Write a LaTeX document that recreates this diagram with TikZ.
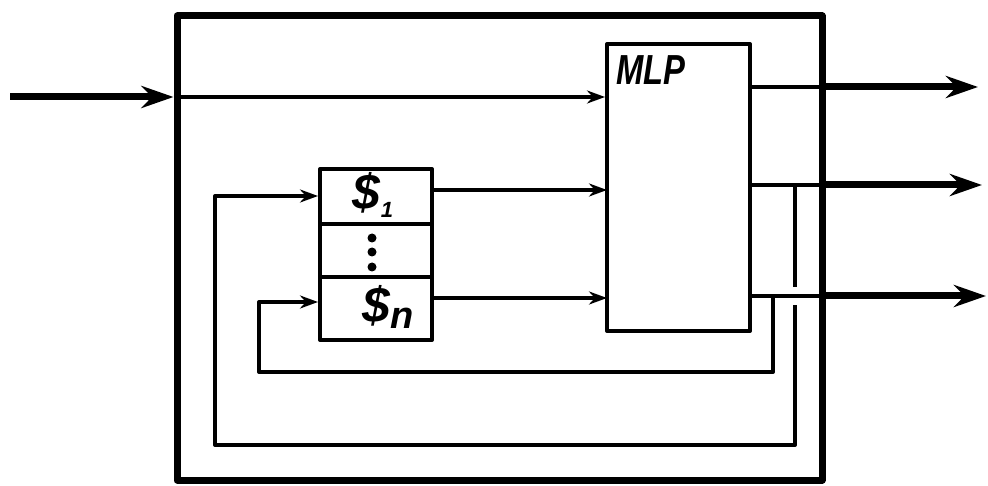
\documentclass[tikz,border=0pt]{standalone}
\usepackage{fontspec}
\setmainfont{Liberation Sans}
\usetikzlibrary{arrows.meta}
\begin{document}
\begin{tikzpicture}[x=1pt,y=-1pt,
  frame/.style={draw, line width=7pt, line join=round, inner sep=0pt},
  blk/.style={draw, line width=4pt, inner sep=0pt, line join=round},
  wire/.style={line width=4pt, line join=round},
  warrow/.style={wire, -{Stealth[length=18pt,width=13pt]}},
  barrow/.style={line width=7pt, -{Stealth[length=32pt,width=22pt]}},
  lbl/.style={font=\fontsize{50}{52}\selectfont\bfseries\itshape, inner sep=0pt},
  dotmark/.style={fill, circle, inner sep=0pt, minimum size=9pt}
]
\useasboundingbox (0,0) rectangle (988,486);

% blocks
\node[frame, minimum width=645pt, minimum height=464pt] (outer) at (499.5,248) {};
\node[blk, minimum width=143pt, minimum height=287pt] (mlp) at (678.5,187.5) {};
\node[blk, minimum width=112pt, minimum height=55pt] (s1) at (376,196.5) {};
\node[blk, minimum width=112pt, minimum height=53pt] (sd) at (376,250.5) {};
\node[blk, minimum width=112pt, minimum height=63pt] (sn) at (376,308.5) {};

% labels
\node[anchor=north west, inner sep=0pt, font=\fontsize{42}{44}\selectfont\bfseries\itshape] (mlplbl) at (616,55) {\scalebox{0.78}[1]{MLP}};
\node[lbl] (l1) at (373,195) {\$\raisebox{-8pt}{\fontsize{22}{22}\selectfont 1}};
\node[lbl] (ln) at (388,307) {\$\raisebox{-6pt}{\fontsize{38}{38}\selectfont n}};
\node[dotmark] (d1) at (372,238) {};
\node[dotmark] (d2) at (372,252) {};
\node[dotmark] (d3) at (372,267) {};

% coordinates
\coordinate (in) at (10,97);
\coordinate (o1) at (750,87);
\coordinate (o2) at (750,185);
\coordinate (o3) at (750,296);
\coordinate (t1) at (978,87);
\coordinate (t2) at (982,185);
\coordinate (t3) at (986,296);
\coordinate (m2) at (607,190);
\coordinate (m3) at (607,298);
\coordinate (f1) at (795,185);
\coordinate (f1b) at (795,445);
\coordinate (f1c) at (215,445);
\coordinate (f1d) at (215,196);
\coordinate (f2) at (773,296);
\coordinate (f2b) at (773,372);
\coordinate (f2c) at (259,372);
\coordinate (f2d) at (259,302);

% input
\draw[barrow] (in) -- (outer.west |- in);
\draw[warrow] (outer.west |- in) -- (mlp.west |- in);

% store to MLP
\draw[warrow] (s1.east |- m2) -- (m2);
\draw[warrow] (sn.east |- m3) -- (m3);

% feedback loops
\draw[warrow] (f1) -- (f1b) -- (f1c) -- (f1d) -- (s1.west |- f1d);
\draw[warrow] (f2) -- (f2b) -- (f2c) -- (f2d) -- (sn.west |- f2d);
\draw[white, line width=6pt] (795,287) -- (795,305);

% outputs
\draw[wire] (o1) -- (o1 -| outer.east);
\draw[wire] (o2) -- (o2 -| outer.east);
\draw[wire] (o3) -- (o3 -| outer.east);
\draw[barrow] (o1 -| outer.east) -- (t1);
\draw[barrow] (o2 -| outer.east) -- (t2);
\draw[barrow] (o3 -| outer.east) -- (t3);
\end{tikzpicture}
\end{document}
